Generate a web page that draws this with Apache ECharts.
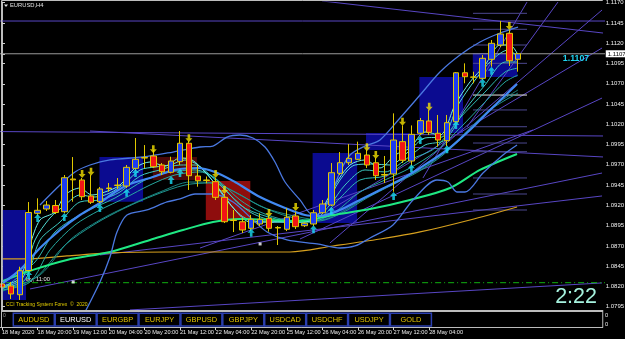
<!DOCTYPE html>
<html><head><meta charset="utf-8">
<script src="https://cdn.jsdelivr.net/npm/echarts@6/dist/echarts.min.js"></script>
<style>html,body{margin:0;padding:0;background:#000;}#c{width:625px;height:339px;}</style>
</head><body><div id="c"></div>
<script>
// ---- candle data (EURUSD H4, 18 May 04:00 .. 29 May 20:00) ----
const opens  = [1.08230,1.08205,1.08098,1.08396,1.09102,1.09155,1.09198,1.09122,1.09525,1.09513,1.09315,1.09245,1.09414,1.09445,1.09439,1.09657,1.09790,1.09809,1.09698,1.09608,1.09739,1.09966,1.09562,1.09513,1.09492,1.09299,1.09019,1.08998,1.08917,1.08970,1.09040,1.08921,1.08905,1.09069,1.08949,1.08970,1.09109,1.09204,1.09595,1.09726,1.09768,1.09821,1.09726,1.09574,1.09587,1.09986,1.09747,1.10089,1.10241,1.10089,1.09998,1.10232,1.10836,1.10780,1.10767,1.11002,1.11178,1.11322,1.11002];
const closes = [1.08193,1.08107,1.08394,1.09112,1.09139,1.09204,1.09112,1.09541,1.09515,1.09307,1.09238,1.09402,1.09408,1.09451,1.09669,1.09768,1.09784,1.09677,1.09615,1.09747,1.09966,1.09566,1.09504,1.09507,1.09299,1.08998,1.09013,1.08896,1.09028,1.09028,1.08917,1.08927,1.09053,1.08937,1.08979,1.09109,1.09217,1.09603,1.09726,1.09780,1.09842,1.09698,1.09566,1.09581,1.10006,1.09756,1.10076,1.10245,1.10101,1.10006,1.10220,1.10836,1.10787,1.10784,1.11014,1.11199,1.11314,1.10984,1.11070];
const lows   = [1.08131,1.08045,1.08033,1.08377,1.09069,1.09130,1.09093,1.09106,1.09245,1.09266,1.09217,1.09229,1.09368,1.09402,1.09414,1.09624,1.09661,1.09661,1.09574,1.09595,1.09698,1.09390,1.09430,1.09473,1.09266,1.08982,1.08871,1.08859,1.08883,1.08945,1.08875,1.08711,1.08883,1.08908,1.08933,1.08945,1.09093,1.09192,1.09574,1.09698,1.09760,1.09661,1.09513,1.09476,1.09368,1.09723,1.09686,1.10068,1.10068,1.09924,1.09932,1.10216,1.10706,1.10706,1.10746,1.10910,1.11153,1.10919,1.10849];
const highs  = [1.08267,1.08255,1.08443,1.09241,1.09287,1.09254,1.09266,1.09574,1.09796,1.09537,1.09574,1.09426,1.09476,1.09537,1.09698,1.10031,1.09944,1.09883,1.09722,1.09800,1.10117,1.09994,1.09698,1.09556,1.09537,1.09340,1.09143,1.09044,1.09081,1.09102,1.09069,1.08945,1.09164,1.09118,1.08995,1.09143,1.09266,1.09722,1.09858,1.09957,1.09986,1.09883,1.09784,1.09809,1.10335,1.10186,1.10186,1.10278,1.10377,1.10315,1.10315,1.10845,1.10952,1.10849,1.11055,1.11240,1.11474,1.11363,1.11079];

// ---- time labels ----
const labelBars  = [0,4,8,12,16,20,24,28,32,36,40,44,48,52];
const labelTexts = ['18 May 2020','18 May 20:00','19 May 12:00','20 May 04:00','20 May 20:00','21 May 12:00','22 May 04:00','22 May 20:00','25 May 12:00','26 May 04:00','26 May 20:00','27 May 12:00','28 May 04:00','28 May 2'];
const totalSlots = 68;

// ---- price scale ----
const priceTicks = [1.1170,1.1145,1.1120,1.1107,1.1095,1.1070,1.1045,1.1020,1.0995,1.0970,1.0945,1.0920,1.0895,1.0870,1.0845,1.0820,1.0795];
const bidPrice = 1.1107;
const priceMin = 1.079031, priceMax = 1.117086;

// ---- signal arrows [bar, price] ----
const upArrows = [[3,1.08341],[4,1.09044],[7,1.09056],[11,1.09167],[14,1.09356],[15,1.09599],[19,1.09513],[20,1.09599],[28,1.08862],[35,1.08904],[37,1.09134],[44,1.09315],[46,1.09657],[47,1.10006],[50,1.09891],[51,1.10191],[54,1.10713],[55,1.10861]];
const downArrows = [[9,1.09587],[10,1.09615],[17,1.09891],[21,1.10027],[24,1.09587],[25,1.09390],[30,1.09106],[33,1.09180],[41,1.09916],[42,1.09821],[45,1.10232],[48,1.10417],[57,1.11412]];
const whiteDots = [[8,1.08255],[29,1.08724]];

// ---- indicator lines [barPos, price] ----
const upperBand = [[4.27,1.09205],[6.52,1.09451],[8.20,1.09612],[9.89,1.09698],[12.13,1.09760],[15.84,1.09797],[19.21,1.09858],[22.25,1.09920],[23.71,1.09932],[25.28,1.10043],[26.74,1.10068],[28.20,1.10031],[29.55,1.09920],[30.67,1.09735],[31.80,1.09488],[33.48,1.09267],[34.94,1.09081],[35.96,1.09118],[36.97,1.09328],[37.98,1.09612],[39.10,1.09821],[40.79,1.09932],[42.47,1.10007],[44.72,1.10278],[46.97,1.10561],[49.21,1.10845],[51.46,1.11055],[53.71,1.11215],[55.96,1.11326],[57.98,1.11400]];
const lowerBand = [[9.10,1.07836],[11.01,1.08255],[12.13,1.08563],[12.92,1.08872],[14.04,1.09081],[16.29,1.09143],[18.54,1.09242],[20.0,1.09279],[21.69,1.09340],[23.60,1.09340],[25.96,1.09242],[28.20,1.09020],[29.78,1.08872],[32.02,1.08773],[35.39,1.08724],[37.98,1.08674],[39.66,1.08699],[41.35,1.08798],[43.93,1.08958],[46.18,1.09267],[48.88,1.09513],[50.11,1.09488],[51.12,1.09365],[52.02,1.09365],[54.04,1.09599],[56.29,1.09821],[57.87,1.09945]];
const middleBand = [[0.11,1.08243],[2.02,1.08404],[4.27,1.08674],[6.52,1.08896],[8.76,1.09081],[11.01,1.09229],[12.70,1.09365],[14.38,1.09464],[16.63,1.09538],[19.44,1.09637],[21.91,1.09661],[23.93,1.09612],[26.18,1.09488],[28.99,1.09303],[31.80,1.09168],[34.04,1.09081],[35.73,1.09069],[37.98,1.09143],[40.22,1.09267],[42.47,1.09390],[44.72,1.09513],[46.97,1.09661],[50.0,1.09883],[52.58,1.10130],[54.49,1.10339],[57.87,1.10697]];
const greenMA = [[0.11,1.08267],[3.48,1.08404],[7.30,1.08527],[12.13,1.08625],[16.63,1.08773],[20.34,1.08896],[23.71,1.08995],[26.74,1.09032],[33.48,1.09007],[37.19,1.09081],[41.35,1.09155],[45.84,1.09267],[50.34,1.09414],[53.71,1.09637],[57.87,1.09834]];
const orangeMA = [[0.11,1.08539],[2.81,1.08539],[7.30,1.08576],[12.13,1.08613],[18.54,1.08625],[25.96,1.08625],[32.36,1.08625],[37.19,1.08699],[42.47,1.08785],[46.97,1.08872],[52.58,1.09020],[57.87,1.09180]];
const ribbon1 = [[0.11,1.08206],[2.02,1.08304],[3.15,1.08711],[4.27,1.09020],[5.96,1.09118],[7.08,1.09328],[8.76,1.09414],[10.11,1.09328],[11.57,1.09365],[13.26,1.09451],[14.94,1.09661],[16.63,1.09735],[18.31,1.09686],[20.0,1.09784],[21.35,1.09760],[22.81,1.09612],[24.49,1.09390],[26.18,1.09143],[27.87,1.08995],[30.11,1.08995],[32.36,1.08995],[34.04,1.08995],[35.73,1.09118],[37.42,1.09451],[39.10,1.09698],[40.79,1.09760],[42.47,1.09661],[44.16,1.09821],[45.84,1.09908],[47.53,1.10105],[49.21,1.10068],[50.90,1.10438],[52.58,1.10722],[54.27,1.10931],[55.96,1.11178],[57.08,1.11178],[57.98,1.11055]];
const ribbon2 = [[0.11,1.08193],[2.25,1.08292],[3.71,1.08773],[5.39,1.09044],[7.08,1.09205],[8.76,1.09328],[10.45,1.09303],[12.13,1.09353],[13.82,1.09476],[15.51,1.09637],[17.19,1.09673],[18.88,1.09698],[20.56,1.09760],[22.02,1.09698],[23.60,1.09513],[25.39,1.09242],[27.30,1.09044],[29.55,1.08995],[32.36,1.08995],[34.61,1.09007],[36.29,1.09192],[37.98,1.09513],[39.66,1.09698],[41.57,1.09710],[43.60,1.09698],[45.62,1.09858],[47.53,1.10031],[49.44,1.10043],[51.24,1.10438],[53.15,1.10746],[55.06,1.10993],[56.85,1.11116],[57.98,1.11030]];
const ribbon3 = [[0.11,1.08181],[2.58,1.08280],[4.27,1.08773],[6.52,1.08995],[8.76,1.09242],[11.01,1.09267],[13.26,1.09365],[15.51,1.09562],[17.75,1.09637],[20.0,1.09698],[21.69,1.09698],[23.37,1.09575],[25.62,1.09328],[27.87,1.09118],[30.11,1.09020],[32.36,1.08995],[34.61,1.08995],[36.85,1.09205],[38.54,1.09451],[40.79,1.09637],[43.03,1.09612],[45.28,1.09760],[47.53,1.09945],[49.78,1.10007],[52.02,1.10377],[54.27,1.10685],[56.52,1.10968],[57.98,1.10968]];
const ribbon4 = [[0.11,1.08169],[3.71,1.08502],[5.96,1.08872],[9.33,1.09118],[12.70,1.09291],[16.07,1.09513],[18.88,1.09612],[21.69,1.09637],[23.93,1.09538],[26.74,1.09205],[29.55,1.09069],[32.92,1.08995],[35.73,1.09044],[37.98,1.09291],[40.22,1.09513],[43.03,1.09562],[45.84,1.09760],[48.65,1.09908],[51.46,1.10278],[54.27,1.10598],[56.52,1.10845],[57.98,1.10894]];
const ribbon5 = [[0.11,1.08157],[3.15,1.08255],[5.39,1.08650],[8.20,1.08958],[11.01,1.09143],[13.82,1.09291],[16.63,1.09451],[19.44,1.09575],[22.25,1.09612],[24.49,1.09488],[26.74,1.09267],[28.99,1.09118],[31.80,1.09020],[34.61,1.08995],[37.42,1.09118],[40.22,1.09365],[43.03,1.09513],[45.84,1.09661],[48.65,1.09858],[51.46,1.10154],[54.27,1.10475],[56.52,1.10722],[57.98,1.10808]];
const ribbon6 = [[0.11,1.08157],[3.71,1.08304],[7.08,1.08711],[10.45,1.08970],[13.82,1.09168],[17.19,1.09328],[20.56,1.09451],[23.37,1.09476],[26.18,1.09365],[28.99,1.09192],[32.36,1.09057],[35.51,1.09007],[38.20,1.09106],[41.01,1.09291],[43.82,1.09451],[46.74,1.09612],[49.55,1.09821],[52.36,1.10105],[55.17,1.10401],[57.98,1.10586]];
const ribbon7 = [[0.11,1.08144],[4.27,1.08341],[7.64,1.08773],[11.01,1.09020],[14.38,1.09205],[17.75,1.09365],[21.12,1.09488],[23.93,1.09476],[26.74,1.09328],[29.55,1.09168],[32.36,1.09081],[35.73,1.09020],[38.54,1.09143],[41.35,1.09328],[44.16,1.09488],[46.97,1.09637],[49.78,1.09858],[52.58,1.10154],[55.39,1.10438],[57.98,1.10623]];

// ---- drawn objects ----
const trendLines = [
  [[-1,1.11474],[68,1.11474]],
  [[35.96,1.11721],[67.53,1.11326]],
  [[-1,1.10111],[67.53,1.10056]],
  [[9.89,1.10117],[67.53,1.09797]],
  [[47.30,1.09538],[58.99,1.11708]],
  [[52.25,1.10167],[62.47,1.11708]],
  [[36.85,1.08736],[67.42,1.11610]],
  [[36.85,1.09143],[67.42,1.11141]],
  [[33.48,1.08785],[67.42,1.10524]],
  [[3.15,1.08169],[67.42,1.09599]],
  [[11.01,1.08588],[67.42,1.09316]],
  [[22.25,1.08674],[59.66,1.10130]],
  [[14.38,1.07910],[67.42,1.08243]]
];
const levelStart = 52.92, levelEnd = 58.99;
const levelPrices = [1.11569,1.11372,1.11178,1.10952,1.10377,1.10170,1.09969,1.09862,1.09538,1.09340,1.09143];
const whiteLevel = 1.10561;
const dashLevel = 1.08246;
// zones: [fromBar, toBar, lowPrice, highPrice, kind]
const zones = [
  [0.1,2.7,1.08034,1.09143,'b'],
  [10.95,15.85,1.09246,1.09797,'b'],
  [16.95,21.9,1.09513,1.09797,'d'],
  [22.9,27.9,1.09020,1.09501,'r'],
  [34.9,39.9,1.08983,1.09846,'b'],
  [40.9,45.8,1.09883,1.10093,'b'],
  [46.9,51.8,1.10093,1.10783,'b'],
  [52.9,57.9,1.10783,1.11079,'b']
];
const buttonLabels = ['AUDUSD','EURUSD','EURGBP','EURJPY','GBPUSD','GBPJPY','USDCAD','USDCHF','USDJPY','GOLD'];

// ---------------------------------------------------------------
const FONT = 'Liberation Sans, Arial, sans-serif';
const labelByBar = {};
labelBars.forEach((b,k)=>{ labelByBar[b] = labelTexts[k]; });
const categories = [];
for (let i=0;i<totalSlots;i++) categories.push('b'+i);
const candleData = opens.map((o,i)=>[o, closes[i], lows[i], highs[i]]);

function lineSeries(data, color, width, z, extra) {
  return Object.assign({
    type:'line', xAxisIndex:1, yAxisIndex:0, data:data, showSymbol:false, symbol:'none',
    smooth:0.3, clip:true, silent:true, z:z,
    lineStyle:{color:color, width:width}
  }, extra||{});
}
const zoneColors = {b:'#0b0b90', r:'#8e0d0d', d:'#4a0808'};

const series = [];
series.push({
  type:'custom', xAxisIndex:1, yAxisIndex:0, z:1, silent:true, clip:true,
  data: zones,
  renderItem: function(params, api){
    const p1 = api.coord([api.value(0), api.value(3)]);
    const p2 = api.coord([api.value(1), api.value(2)]);
    const kind = zones[params.dataIndex][4];
    return {type:'rect', shape:{x:p1[0], y:p1[1], width:p2[0]-p1[0], height:p2[1]-p1[1]},
            style:{fill: zoneColors[kind]}};
  }
});
trendLines.forEach(t=>series.push(lineSeries(t,'#5846c4',1,2,{smooth:false})));
levelPrices.forEach(p=>series.push(lineSeries([[levelStart,p],[levelEnd,p]],'#4c4890',1,2,{smooth:false})));
series.push(lineSeries([[levelStart,whiteLevel],[levelEnd,whiteLevel]],'#e8e8e8',1,2,{smooth:false}));
series.push(lineSeries([[-1,dashLevel],[68,dashLevel]],'#10b010',1,2,{smooth:false,lineStyle:{color:'#10b010',width:1,type:[6,3,1,3]}}));
series.push(lineSeries([[-1,bidPrice],[68,bidPrice]],'#9a9a9a',1,2,{smooth:false}));
series.push(lineSeries(orangeMA,'#d6a01e',1.2,3));
series.push(lineSeries(ribbon7,'#1a8480',1,3));
series.push(lineSeries(ribbon6,'#1f9690',1,3));
series.push(lineSeries(ribbon5,'#26a8a0',1,3));
series.push(lineSeries(ribbon4,'#30bab2',1,3));
series.push(lineSeries(ribbon3,'#3ecac2',1,3));
series.push(lineSeries(ribbon2,'#52dcd4',1,3));
series.push(lineSeries(ribbon1,'#70f0ea',1,3));
series.push(lineSeries(greenMA,'#1fe883',2,3));
series.push(lineSeries(upperBand,'#4a78e0',1.3,3));
series.push(lineSeries(lowerBand,'#4a78e0',1.3,3));
series.push(lineSeries(middleBand,'#4189f2',2.2,3));
series.push({
  type:'candlestick', xAxisIndex:0, yAxisIndex:0, data:candleData, barWidth:6, z:5, silent:true, clip:true,
  itemStyle:{color:'#1d3cf2', color0:'#f21616', borderColor:'#e0c800', borderColor0:'#e0c800', borderColorDoji:'#e0c800', borderWidth:1}
});
const upPath = 'path://M4,0 L8,4.5 L5.5,4.5 L5.5,9 L2.5,9 L2.5,4.5 L0,4.5 Z';
const downPath = 'path://M2.5,0 L5.5,0 L5.5,4.5 L8,4.5 L4,9 L0,4.5 L2.5,4.5 Z';
series.push({type:'scatter', xAxisIndex:0, yAxisIndex:0, data:upArrows, symbol:upPath, symbolSize:[7,8], z:6, silent:true, itemStyle:{color:'#18dcf4'}});
series.push({type:'scatter', xAxisIndex:0, yAxisIndex:0, data:downArrows, symbol:downPath, symbolSize:[7,8], z:6, silent:true, itemStyle:{color:'#f2e000'}});
series.push({type:'scatter', xAxisIndex:0, yAxisIndex:0, data:whiteDots, symbol:'rect', symbolSize:3, z:6, silent:true, itemStyle:{color:'#ffffff'}});

// graphics (frame, sub-window, buttons, texts)
const graphics = [];
const frameColor = '#bdbdbd';
graphics.push({type:'line', z:100, shape:{x1:1.5,y1:0.5,x2:602.75,y2:0.5}, style:{stroke:frameColor, lineWidth:1}});
graphics.push({type:'line', z:100, shape:{x1:1.5,y1:0.5,x2:1.5,y2:327}, style:{stroke:frameColor, lineWidth:1}});
graphics.push({type:'line', z:100, shape:{x1:1.5,y1:311,x2:603,y2:311}, style:{stroke:frameColor, lineWidth:2}});
graphics.push({type:'line', z:100, shape:{x1:602.75,y1:310,x2:602.75,y2:327}, style:{stroke:frameColor, lineWidth:1}});
graphics.push({type:'rect', z:99, shape:{x:2,y:312,width:600.5,height:14.5}, style:{fill:'#000'}});
buttonLabels.forEach((t,k)=>{
  const bx = 13.3 + k*41.9;
  graphics.push({type:'rect', z:101, shape:{x:bx,y:313.3,width:41,height:12.7}, style:{fill:'#000', stroke:'#2b3fb0', lineWidth:1.5}});
  graphics.push({type:'text', z:102, x:bx+20.5, y:319.8, style:{text:t, fill:(t==='EURUSD'?'#ffffff':'#e4c400'), font:'7.4px '+FONT, textAlign:'center', textVerticalAlign:'middle', align:'center', verticalAlign:'middle'}});
});
graphics.push({type:'text', z:101, x:605, y:315.5, style:{text:'0', fill:'#e8e8e8', font:'5.8px '+FONT, textVerticalAlign:'middle', verticalAlign:'middle'}});
graphics.push({type:'text', z:101, x:605, y:324, style:{text:'0', fill:'#e8e8e8', font:'5.8px '+FONT, textVerticalAlign:'middle', verticalAlign:'middle'}});
graphics.push({type:'text', z:101, x:3, y:316, style:{text:'0', fill:'#9a9a9a', font:'5px '+FONT, textVerticalAlign:'middle', verticalAlign:'middle'}});
graphics.push({type:'polygon', z:100, shape:{points:[[4,4.5],[8,4.5],[6,7]]}, style:{fill:'#e0e0e0'}});
graphics.push({type:'text', z:100, x:10, y:5.8, style:{text:'EURUSD,H4', fill:'#e0e0e0', font:'5.8px '+FONT, textVerticalAlign:'middle', verticalAlign:'middle'}});
graphics.push({type:'text', z:100, x:576, y:58.5, style:{text:'1.1107', fill:'#1ed4f0', font:'bold 8.8px '+FONT, textAlign:'center', textVerticalAlign:'middle', align:'center', verticalAlign:'middle'}});
graphics.push({type:'text', z:100, x:597, y:297, style:{text:'2:22', fill:'#a6f2de', font:'21.5px '+FONT, textAlign:'right', textVerticalAlign:'middle', align:'right', verticalAlign:'middle'}});
graphics.push({type:'text', z:100, x:6, y:305, style:{text:'CCI Tracking System Forex  \u00a9  2020', fill:'#e6d000', font:'5px '+FONT, textVerticalAlign:'middle', verticalAlign:'middle'}});
graphics.push({type:'text', z:1, x:17, y:279.5, style:{text:'Friday, 11:00', fill:'#e8e8e8', font:'5.8px '+FONT, textVerticalAlign:'middle', verticalAlign:'middle'}});

const option = {
  backgroundColor:'#000',
  animation:false,
  grid:{left:-2.45, right:22.25, top:2, bottom:28.5, containLabel:false, outerBoundsMode:'none'},
  xAxis:[
    {type:'category', data:categories, boundaryGap:true, position:'bottom', offset:16.5,
     axisLine:{show:true, lineStyle:{color:frameColor, width:1}},
     axisTick:{show:true, alignWithLabel:true, length:3, interval:(i)=>labelByBar[i]!==undefined, lineStyle:{color:'#d0d0d0'}},
     axisLabel:{show:true, showMinLabel:true, showMaxLabel:false, hideOverlap:false, interval:(i)=>labelByBar[i]!==undefined, formatter:(v,i)=>labelByBar[i]||'', align:'left', margin:2.5, color:'#ececec', fontSize:5.6, fontFamily:FONT},
     splitLine:{show:false}},
    {type:'value', min:-0.5, max:totalSlots-0.5, show:false}
  ],
  yAxis:[{type:'value', position:'right', min:priceMin, max:priceMax, scale:true,
     axisLine:{show:true, lineStyle:{color:frameColor, width:1}},
     axisTick:{show:true, inside:false, length:3, customValues:priceTicks, lineStyle:{color:'#d0d0d0'}},
     splitLine:{show:false},
     axisLabel:{show:true, customValues:priceTicks, margin:3, color:'#f0f0f0', fontSize:6, fontFamily:FONT,
       formatter:(v)=> Math.abs(v-bidPrice)<1e-7 ? '{bid|'+v.toFixed(4)+'}' : v.toFixed(4),
       rich:{bid:{backgroundColor:'#ffffff', color:'#000000', fontSize:6, fontFamily:FONT, padding:[1,2,0,2]}}}
  }],
  series: series,
  graphic: graphics
};
const chart = echarts.init(document.getElementById('c'), null, {renderer:'canvas', width:625, height:339});
chart.setOption(option);
</script>
</body></html>
